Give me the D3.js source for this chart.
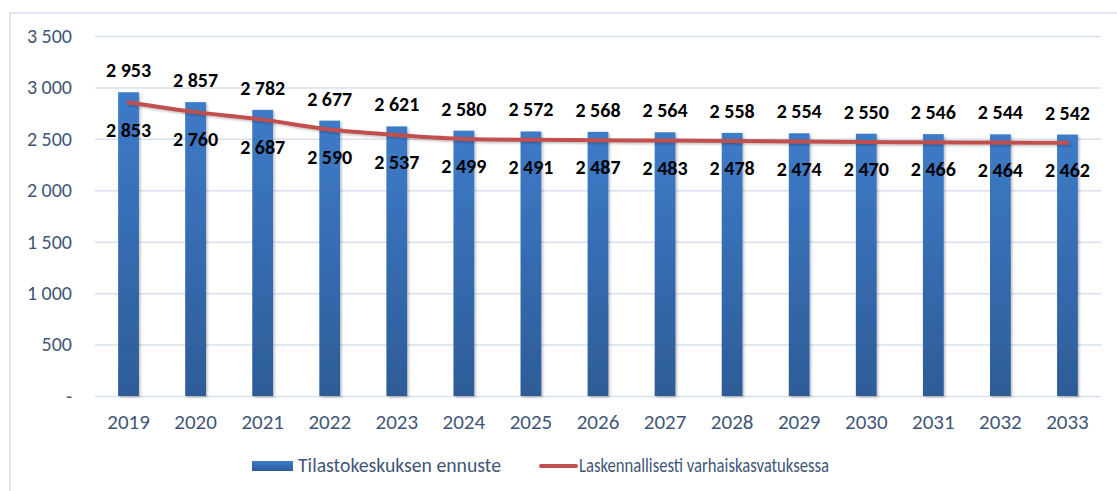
<!DOCTYPE html>
<html>
<head>
<meta charset="utf-8">
<script src="https://cdn.jsdelivr.net/npm/d3@7"></script>
<style>
  body { margin: 0; background: #fff; }
  svg { display: block; font-family: Carlito, Calibri, Lato, sans-serif; }
</style>
</head>
<body>
<svg id="chart" width="1117" height="491"></svg>
<script>
// chart data
const years = ['2019', '2020', '2021', '2022', '2023', '2024', '2025', '2026', '2027', '2028', '2029', '2030', '2031', '2032', '2033'];
const forecast = [2953, 2857, 2782, 2677, 2621, 2580, 2572, 2568, 2564, 2558, 2554, 2550, 2546, 2544, 2542];
const computed = [2853, 2760, 2687, 2590, 2537, 2499, 2491, 2487, 2483, 2478, 2474, 2470, 2466, 2464, 2462];
const yTicks = [0, 500, 1000, 1500, 2000, 2500, 3000, 3500];
const seriesNames = ['Tilastokeskuksen ennuste', 'Laskennallisesti varhaiskasvatuksessa'];

const margin = { top: 36, right: 16, bottom: 95, left: 95 };
const width = 1117 - margin.left - margin.right;
const height = 491 - margin.top - margin.bottom;

const fi = d3.formatLocale({ decimal: ',', thousands: '\u00a0', grouping: [3], currency: ['', ' €'] });
const fmt = fi.format(',d');

const svg = d3.select('#chart');

// gradient for the bars
const defs = svg.append('defs');
const grad = defs.append('linearGradient')
    .attr('id', 'barGrad')
    .attr('x1', 0).attr('y1', 0).attr('x2', 0).attr('y2', 1);
grad.append('stop').attr('offset', '0%').attr('stop-color', '#3e7bc9');
grad.append('stop').attr('offset', '100%').attr('stop-color', '#2d5c97');

const shadow = defs.append('filter').attr('id', 'shadow')
    .attr('x', '-20%').attr('y', '-20%').attr('width', '140%').attr('height', '140%');
shadow.append('feDropShadow')
    .attr('dx', 1.5).attr('dy', 1.5).attr('stdDeviation', 1.2)
    .attr('flood-color', '#000').attr('flood-opacity', 0.25);

// outer frame (chart area border)
svg.append('path')
    .attr('d', 'M10,491 L10,13 L1117,13')
    .attr('fill', 'none')
    .attr('stroke', '#d6e0ef')
    .attr('stroke-width', 1.5);

const chart = svg.append('g')
    .attr('transform', `translate(${margin.left},${margin.top})`);

const x = d3.scaleBand()
    .domain(years)
    .range([0, width])
    .paddingInner(0.69)
    .paddingOuter(0.345);

const y = d3.scaleLinear()
    .domain([0, 3500])
    .range([height, 0]);

// gridlines + y tick labels
const yAxisG = chart.append('g')
    .call(d3.axisLeft(y)
        .tickValues(yTicks)
        .tickSize(-width)
        .tickPadding(23)
        .tickFormat(d => d === 0 ? '-' : fmt(d)))
    .call(g => g.select('.domain').remove());
yAxisG.selectAll('line')
    .attr('stroke', '#d6e0ef')
    .attr('stroke-width', 1.5);
yAxisG.selectAll('text')
    .attr('fill', '#3f5577')
    .style('font-size', '20px')
    .style('font-family', 'Carlito, Calibri, Lato, sans-serif');

// x axis labels
const xAxisG = chart.append('g')
    .attr('transform', `translate(0,${height})`)
    .call(d3.axisBottom(x).tickSize(0))
    .call(g => g.select('.domain').remove());
xAxisG.selectAll('text')
    .attr('y', 33)
    .attr('dy', 0)
    .attr('fill', '#3f5577')
    .style('font-size', '21px')
    .style('font-family', 'Carlito, Calibri, Lato, sans-serif');

// bars
chart.selectAll('.bar')
    .data(forecast)
    .join('rect')
    .attr('class', 'bar')
    .attr('x', (d, i) => x(years[i]))
    .attr('y', d => y(d))
    .attr('width', x.bandwidth())
    .attr('height', d => height - y(d))
    .attr('fill', 'url(#barGrad)')
    .attr('filter', 'url(#shadow)');

// line
const line = d3.line()
    .x((d, i) => x(years[i]) + x.bandwidth() / 2)
    .y(d => y(d))
    .curve(d3.curveMonotoneX);

chart.append('path')
    .datum(computed)
    .attr('d', line)
    .attr('fill', 'none')
    .attr('stroke', '#c0504d')
    .attr('stroke-width', 4)
    .attr('stroke-linecap', 'round')
    .attr('filter', 'url(#shadow)');

// data labels
chart.selectAll('.lbl-bar')
    .data(forecast)
    .join('text')
    .attr('class', 'lbl-bar')
    .attr('x', (d, i) => x(years[i]) + x.bandwidth() / 2)
    .attr('y', d => y(d) - 15)
    .attr('text-anchor', 'middle')
    .attr('font-weight', 'bold')
    .attr('font-size', '20px')
    .attr('fill', '#000')
    .text(d => fmt(d));

chart.selectAll('.lbl-line')
    .data(computed)
    .join('text')
    .attr('class', 'lbl-line')
    .attr('x', (d, i) => x(years[i]) + x.bandwidth() / 2)
    .attr('y', d => y(d) + 34)
    .attr('text-anchor', 'middle')
    .attr('font-weight', 'bold')
    .attr('font-size', '20px')
    .attr('fill', '#000')
    .text(d => fmt(d));

// legend
const legend = svg.append('g');
legend.append('rect')
    .attr('x', 252).attr('y', 461)
    .attr('width', 41).attr('height', 10)
    .attr('fill', 'url(#barGrad)');
legend.append('text')
    .attr('x', 298).attr('y', 472)
    .attr('fill', '#3f5577')
    .attr('font-size', '19.5px')
    .attr('textLength', 203)
    .attr('lengthAdjust', 'spacingAndGlyphs')
    .text(seriesNames[0]);
legend.append('line')
    .attr('x1', 541).attr('x2', 576)
    .attr('y1', 466).attr('y2', 466)
    .attr('stroke', '#c0504d')
    .attr('stroke-width', 4)
    .attr('stroke-linecap', 'round');
legend.append('text')
    .attr('x', 579).attr('y', 472)
    .attr('fill', '#3f5577')
    .attr('font-size', '19.5px')
    .attr('textLength', 250)
    .attr('lengthAdjust', 'spacingAndGlyphs')
    .text(seriesNames[1]);
</script>
</body>
</html>
